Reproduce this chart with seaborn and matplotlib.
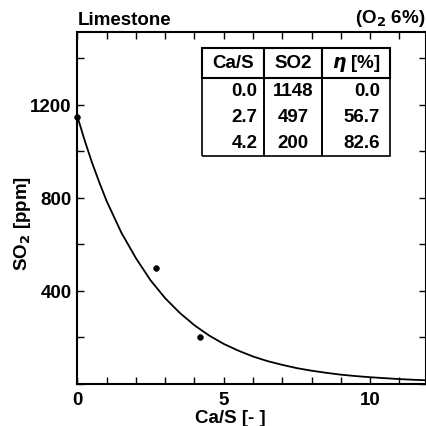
import matplotlib
matplotlib.use("Agg")
import matplotlib.pyplot as plt
import seaborn as sns
import pandas as pd
from matplotlib.ticker import MultipleLocator, FixedLocator

# measured data points
ca_s = [0.0, 2.7, 4.2]
so2 = [1148, 497, 200]
eta = [0.0, 56.7, 82.6]

# fitted curve, values
curve_x = [0.0, 0.25, 0.5, 0.75, 1.0, 1.5, 2.0, 2.5, 3.0, 3.5, 4.0, 4.5, 5.0, 5.5,
           6.0, 6.5, 7.0, 7.5, 8.0, 8.5, 9.0, 9.5, 10.0, 10.5, 11.0, 11.5, 11.9]
curve_y = [1148, 1045, 950, 865, 785, 650, 540, 445, 368, 305, 252, 208, 172, 143,
           118, 98, 82, 68, 57, 48, 40, 34, 29, 25, 21, 18, 16]

table_header = ["Ca/S", "SO2", r"$\eta$ [%]"]

sns.set_theme(style="ticks")
plt.rcParams["font.family"] = ["Liberation Sans", "DejaVu Sans"]
plt.rcParams["font.weight"] = "bold"
plt.rcParams["mathtext.fontset"] = "dejavusans"
for key in ["text.color", "axes.labelcolor", "xtick.color", "ytick.color", "axes.edgecolor"]:
    plt.rcParams[key] = "black"

FS = 13.5

fig = plt.figure(figsize=(4.27, 4.27), dpi=100)
ax = fig.add_axes([0.1813, 0.0984, 0.8157, 0.8236])

curve_df = pd.DataFrame({"x": curve_x, "y": curve_y})
pts_df = pd.DataFrame({"x": ca_s, "y": so2})
sns.lineplot(data=curve_df, x="x", y="y", ax=ax, color="black", linewidth=1.3, sort=True)
sns.scatterplot(data=pts_df, x="x", y="y", ax=ax, color="black", s=18, edgecolor="black",
                zorder=5, clip_on=False)

ax.set_xlim(0, 11.9)
ax.set_ylim(0, 1510)
ax.xaxis.set_major_locator(FixedLocator([0, 5, 10]))
ax.xaxis.set_minor_locator(MultipleLocator(1))
ax.yaxis.set_major_locator(FixedLocator([400, 800, 1200]))
ax.yaxis.set_minor_locator(MultipleLocator(200))

for s in ax.spines.values():
    s.set_visible(True)
    s.set_linewidth(1.5)
    s.set_color("black")

ax.tick_params(which="both", direction="in", top=True, right=True, color="black",
               labelcolor="black", labelsize=FS, width=1.0, length=5)
ax.tick_params(axis="x", pad=5)
ax.tick_params(axis="y", pad=4)
for lab in ax.get_xticklabels() + ax.get_yticklabels():
    lab.set_fontweight("bold")

ax.set_xlabel("Ca/S [- ]", fontsize=FS, fontweight="bold", color="black")
ax.set_ylabel(r"SO$_2$ [ppm]", fontsize=FS, fontweight="bold", color="black")
ax.xaxis.set_label_coords(0.438, -0.072)
ax.yaxis.set_label_coords(-0.127, 0.46)

ax.text(0.0, 1.012, "Limestone", transform=ax.transAxes, ha="left", va="bottom",
        fontsize=FS, fontweight="bold", color="black")
ax.text(1.0, 1.012, r"(O$_2$ 6%)", transform=ax.transAxes, ha="right", va="bottom",
        fontsize=FS, fontweight="bold", color="black")

# table
cells = [[f"{c:.1f}", f"{v:d}", f"{e:.1f}"] for c, v, e in zip(ca_s, so2, eta)]
tbl = ax.table(cellText=cells, colLabels=table_header,
               colWidths=[62, 58, 67.7], cellLoc="right", colLoc="center",
               bbox=[0.3586, 0.6483, 0.539, 0.3071])
tbl.auto_set_font_size(False)
nrows = len(cells) + 1
for (r, c), cell in tbl.get_celld().items():
    cell.set_edgecolor("black")
    cell.get_text().set_fontsize(FS)
    cell.get_text().set_fontweight("bold")
    cell.get_text().set_color("black")
    if r == 0:
        cell.set_height(30)
        cell.set_linewidth(1.5)
        cell.visible_edges = "closed"
    else:
        cell.set_height(26)
        cell.set_linewidth(1.2)
        cell.visible_edges = "LRB" if r == nrows - 1 else "LR"
        if c == 0:
            cell.PAD = 0.11
        elif c == 1:
            cell.get_text().set_horizontalalignment("center")
            cell._loc = "center"
        else:
            cell.PAD = 0.15

fig.savefig("out.png", dpi=100)
